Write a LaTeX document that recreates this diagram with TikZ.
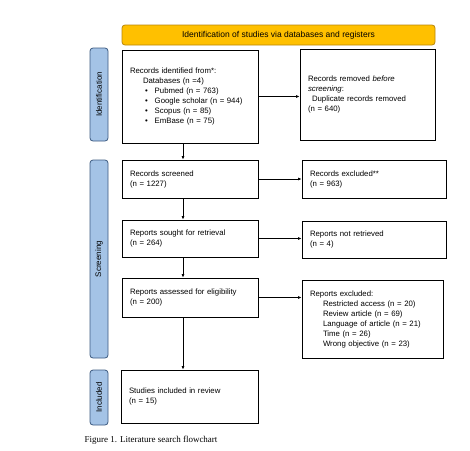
\documentclass[tikz,border=0pt]{standalone}
\usepackage{fontspec}
\setmainfont{Liberation Sans}
\newfontfamily\captionserif{Liberation Serif}
\usetikzlibrary{arrows.meta}
\definecolor{banda}{HTML}{FFC000}
\definecolor{bandaborde}{HTML}{B8860B}
\definecolor{lateral}{HTML}{A4C3E6}
\definecolor{lateralborde}{HTML}{3C5A80}
\tikzset{
  caja/.style={draw, line width=0.8pt, align=left, inner xsep=8pt, inner ysep=2pt,
    font=\fontsize{7.8}{10}\selectfont},
  fase/.style={draw=lateralborde, fill=lateral, line width=0.8pt, rounded corners=3pt,
    minimum height=18, inner sep=0pt, font=\fontsize{8}{8}\selectfont},
  flecha/.style={-{Latex[length=3.5pt,width=3pt]}, line width=0.7pt}
}
\begin{document}
\begin{tikzpicture}[x=1pt, y=-1pt]
    \useasboundingbox (0,0) rectangle (470,450);

    % Cabecera
    \node[draw=bandaborde, fill=banda, line width=0.8pt, rounded corners=3pt,
      minimum width=313, minimum height=20, font=\fontsize{8.5}{9}\selectfont]
      (cabecera) at (278.5,35) {Identification of studies via databases and registers};

    % Fases (cajas azules)
    \node[fase, minimum width=93, rotate=90] (fident) at (99,94.5) {Identification};
    \node[fase, minimum width=198, rotate=90] (fscreen) at (99,259) {Screening};
    \node[fase, minimum width=55, rotate=90] (fincl) at (99,397.5) {Included};

    % Columna izquierda
    \node[caja, text width=120, minimum height=93] (ident) at (190,96.5) {%
      Records identified from*:\\
      \hspace*{13pt}Databases (n =4)\\
      \hspace*{15pt}\textbullet\hspace{7pt}Pubmed (n = 763)\\
      \hspace*{15pt}\textbullet\hspace{7pt}Google scholar (n = 944)\\
      \hspace*{15pt}\textbullet\hspace{7pt}Scopus (n = 85)\\
      \hspace*{15pt}\textbullet\hspace{7pt}EmBase (n = 75)};
    \node[caja, text width=120, minimum height=38] (screened) at (190,179) {%
      Records screened\\(n = 1227)};
    \node[caja, text width=120, minimum height=37] (sought) at (190,238.5) {%
      Reports sought for retrieval\\(n = 264)};
    \node[caja, text width=120, minimum height=39] (assessed) at (190,297.5) {%
      Reports assessed for eligibility\\(n = 200)};
    \node[caja, text width=121, minimum height=53] (included) at (189.5,396.5) {%
      Studies included in review\\(n = 15)};

    % Columna derecha
    \node[caja, text width=119, minimum height=91] (removed) at (367.5,94.5) {%
      Records removed \textit{before}\\
      \textit{screening}:\\
      \hspace*{4pt}Duplicate records removed\\
      (n = 640)};
    \node[caja, text width=128, minimum height=38] (excluded) at (374,179) {%
      Records excluded**\\(n = 963)};
    \node[caja, text width=128, minimum height=37] (notretr) at (374,239.5) {%
      Reports not retrieved\\(n = 4)};
    \node[caja, text width=125, minimum height=78] (repexcl) at (372.5,319) {%
      Reports excluded:\\
      \hspace*{13pt}Restricted access (n = 20)\\
      \hspace*{13pt}Review article (n = 69)\\
      \hspace*{13pt}Language of article (n = 21)\\
      \hspace*{13pt}Time (n = 26)\\
      \hspace*{13pt}Wrong objective (n = 23)};

    % Flechas verticales
    \coordinate (eje) at (183,0);
    \draw[flecha] (ident.south -| eje) -- (screened.north -| eje);
    \draw[flecha] (screened.south -| eje) -- (sought.north -| eje);
    \draw[flecha] (sought.south -| eje) -- (assessed.north -| eje);
    \draw[flecha] (assessed.south -| eje) -- (included.north -| eje);

    % Flechas horizontales
    \draw[flecha] (ident.east) -- (ident.east -| removed.west);
    \draw[flecha] (screened.east) -- (screened.east -| excluded.west);
    \draw[flecha] (sought.east) -- (sought.east -| notretr.west);
    \draw[flecha] (assessed.east) -- (assessed.east -| repexcl.west);

    % Pie de figura
    \node[anchor=west, font=\captionserif\fontsize{9}{10}\selectfont] (pie) at (81,440)
      {Figure 1. Literature search flowchart};
\end{tikzpicture}
\end{document}
